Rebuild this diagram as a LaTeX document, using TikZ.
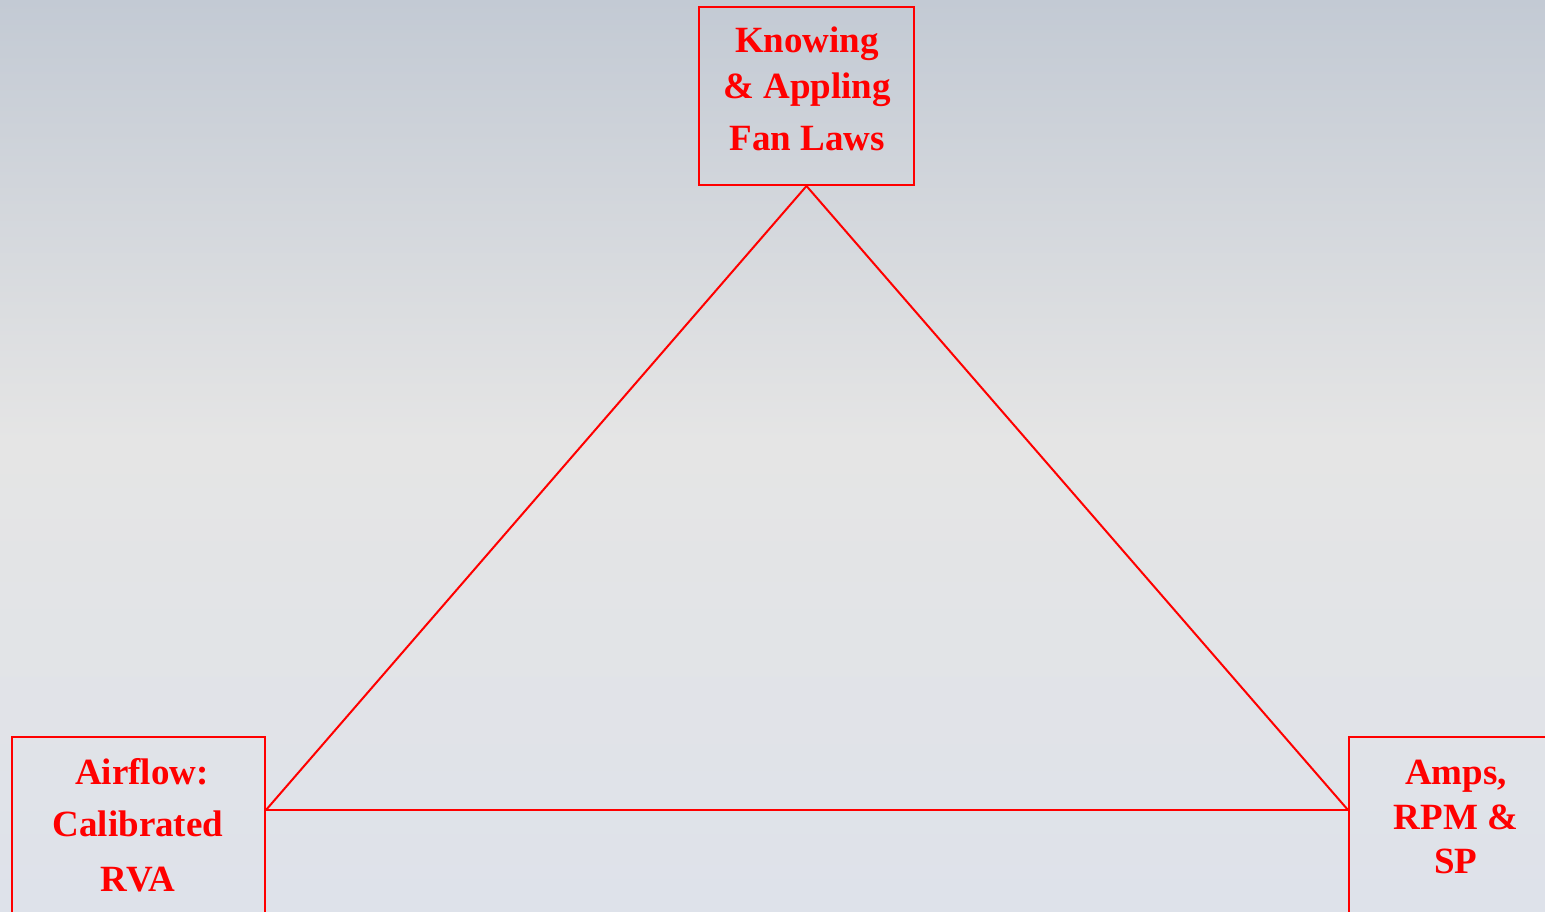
\documentclass[tikz,border=0pt]{standalone}
\usepackage{fontspec}
\setmainfont{Liberation Serif}
\usetikzlibrary{calc}
\definecolor{bgtop}{RGB}{195,202,212}
\definecolor{bgmid}{RGB}{229,229,229}
\definecolor{bgbot}{RGB}{222,226,234}
\definecolor{lred}{RGB}{255,0,0}
\begin{document}
\begin{tikzpicture}[x=1pt,y=-1pt,
  box/.style={draw=lred,line width=2pt,rectangle,inner sep=0pt},
  lbl/.style={anchor=base,text=lred,font=\fontsize{37}{41}\selectfont\bfseries,inner sep=0pt},
  edge/.style={draw=lred,line width=2pt}]
\useasboundingbox (0,0) rectangle (1545,912);
\shade[top color=bgtop,bottom color=bgmid,shading angle=0] (0,0) rectangle (1545,440.5);
\shade[top color=bgmid,bottom color=bgbot] (0,440) rectangle (1545,912);
% boxes
\node[box,minimum width=215pt,minimum height=178pt] (top) at (806.5,96) {};
\node[box,minimum width=253pt,minimum height=200pt] (left) at (138.5,837) {};
\node[box,minimum width=220pt,minimum height=200pt] (right) at (1459,837) {};
% texts
\node[lbl] (t1) at (807,53) {Knowing};
\node[lbl] (t2) at (807,99) {\& Appling};
\node[lbl] (t3) at (807,151) {Fan Laws};
\node[lbl] (l1) at (142,784) {Airflow:};
\node[lbl] (l2) at (138,836) {Calibrated};
\node[lbl] (l3) at (138,891) {RVA};
\node[lbl] (r1) at (1456,784) {Amps,};
\node[lbl] (r2) at (1456,829) {RPM \&};
\node[lbl] (r3) at (1456,873) {SP};
% connectors
\coordinate (lc) at ($(left.north east)+(0,74)$);
\coordinate (rc) at ($(right.north west)+(0,74)$);
\draw[edge] (top.south) -- (lc);
\draw[edge] (top.south) -- (rc);
\draw[edge] (lc) -- (rc);
\end{tikzpicture}
\end{document}
